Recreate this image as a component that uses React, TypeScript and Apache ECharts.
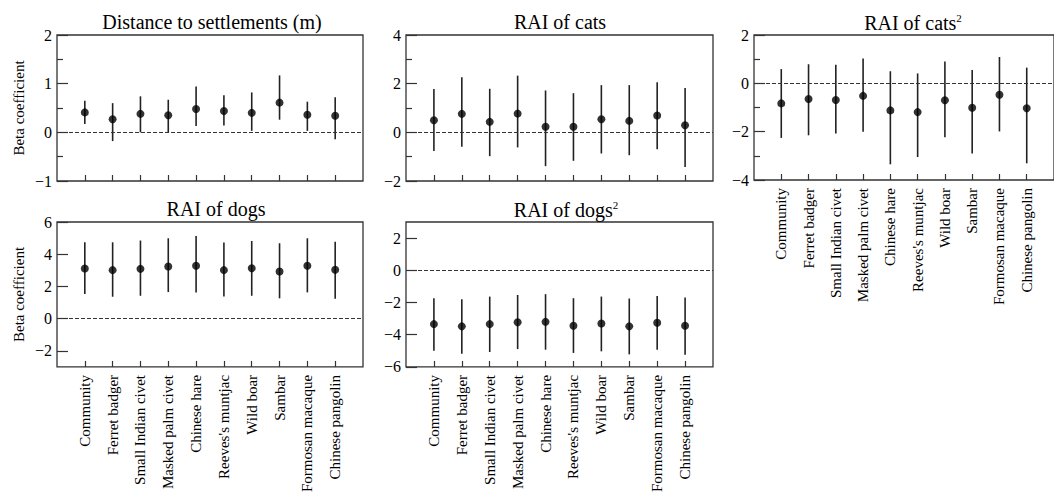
import React, { useEffect, useRef } from "react";
import * as echarts from "echarts";

const categories = [
  "Community",
  "Ferret badger",
  "Small Indian civet",
  "Masked palm civet",
  "Chinese hare",
  "Reeves's muntjac",
  "Wild boar",
  "Sambar",
  "Formosan macaque",
  "Chinese pangolin",
];

// Panel 1: Distance to settlements (m)
const distEst = [0.41, 0.27, 0.38, 0.35, 0.48, 0.44, 0.4, 0.61, 0.36, 0.34];
const distLo = [0.17, -0.18, 0.0, -0.01, 0.13, 0.14, 0.03, 0.26, 0.03, -0.14];
const distHi = [0.65, 0.6, 0.74, 0.67, 0.94, 0.76, 0.82, 1.17, 0.63, 0.72];

// Panel 2: RAI of cats
const catsEst = [0.5, 0.76, 0.43, 0.77, 0.23, 0.23, 0.54, 0.47, 0.69, 0.29];
const catsLo = [-0.77, -0.59, -0.98, -0.62, -1.39, -1.17, -0.87, -0.94, -0.7, -1.42];
const catsHi = [1.78, 2.26, 1.79, 2.33, 1.72, 1.61, 1.94, 1.94, 2.06, 1.82];

// Panel 3: RAI of cats^2
const cats2Est = [-0.83, -0.65, -0.69, -0.52, -1.12, -1.19, -0.7, -1.01, -0.47, -1.03];
const cats2Lo = [-2.26, -2.15, -2.08, -2.0, -3.35, -3.05, -2.23, -2.9, -1.99, -3.31];
const cats2Hi = [0.59, 0.79, 0.77, 1.03, 0.5, 0.41, 0.9, 0.55, 1.09, 0.65];

// Panel 4: RAI of dogs
const dogsEst = [3.11, 3.01, 3.09, 3.24, 3.28, 3.01, 3.13, 2.93, 3.28, 3.03];
const dogsLo = [1.53, 1.36, 1.42, 1.65, 1.63, 1.38, 1.42, 1.26, 1.63, 1.24];
const dogsHi = [4.74, 4.74, 4.85, 4.99, 5.13, 4.72, 4.82, 4.68, 4.99, 4.78];

// Panel 5: RAI of dogs^2
const dogs2Est = [-3.34, -3.48, -3.34, -3.22, -3.2, -3.44, -3.3, -3.48, -3.26, -3.44];
const dogs2Lo = [-4.99, -5.18, -5.07, -4.89, -4.93, -5.13, -5.03, -5.22, -4.93, -5.24];
const dogs2Hi = [-1.73, -1.79, -1.63, -1.53, -1.48, -1.73, -1.63, -1.75, -1.59, -1.69];

const yLabels4 = [-2, 0, 2, 4, 6];
const yLabels5 = [-6, -4, -2, 0, 2];
const xPositions = [1, 2, 3, 4, 5, 6, 7, 8, 9, 10];

const FONT = "'Liberation Serif', 'Times New Roman', serif";

export default function App() {
  const ref = useRef<HTMLDivElement>(null);

  useEffect(() => {
    if (!ref.current) return;
    const chart = echarts.init(ref.current, undefined, { renderer: "svg" });

    const panels = [
      { est: distEst, lo: distLo, hi: distHi, left: 57, top: 35, width: 306, height: 146, min: -1, max: 2, interval: 1, minor: true, custom: null as number[] | null, xLabels: false, yName: true },
      { est: catsEst, lo: catsLo, hi: catsHi, left: 406, top: 35, width: 307, height: 146, min: -2, max: 4, interval: 2, minor: true, custom: null, xLabels: false, yName: false },
      { est: cats2Est, lo: cats2Lo, hi: cats2Hi, left: 754, top: 35, width: 306, height: 145, min: -4, max: 2, interval: 2, minor: true, custom: null, xLabels: true, yName: false },
      { est: dogsEst, lo: dogsLo, hi: dogsHi, left: 57, top: 222, width: 306, height: 145, min: -3, max: 6, interval: 1, minor: false, custom: yLabels4, xLabels: true, yName: true },
      { est: dogs2Est, lo: dogs2Lo, hi: dogs2Hi, left: 406, top: 222, width: 307, height: 145, min: -6, max: 3, interval: 1, minor: false, custom: yLabels5, xLabels: true, yName: false },
    ];

    const grids = panels.map((p) => ({
      left: p.left,
      top: p.top,
      width: p.width,
      height: p.height,
      show: true,
      borderColor: "#333",
      borderWidth: 1.3,
      backgroundColor: "transparent",
    }));

    const xAxes = panels.map((p, i) => ({
      type: "value",
      gridIndex: i,
      position: "bottom",
      min: 0,
      max: 11,
      interval: 1,
      axisLine: { show: false, onZero: false },
      splitLine: { show: false },
      axisTick: { show: true, inside: true, length: 6, lineStyle: { color: "#333", width: 1.2 }, customValues: xPositions },
      axisLabel: {
        show: p.xLabels,
        customValues: xPositions,
        rotate: 90,
        margin: 8,
        color: "#000",
        fontFamily: FONT,
        fontSize: 15,
        formatter: (v: number) => categories[Math.round(v) - 1] ?? "",
      },
    }));

    const yAxes = panels.map((p, i) => {
      const ax: any = {
        type: "value",
        gridIndex: i,
        position: "left",
        min: p.min,
        max: p.max,
        axisLine: { show: false, onZero: false },
        splitLine: { show: false },
        axisTick: { show: true, inside: true, length: 11, lineStyle: { color: "#333", width: 1.2 } },
        axisLabel: {
          color: "#000",
          fontFamily: FONT,
          fontSize: 16,
          margin: 5,
          formatter: (v: number) => (v < 0 ? "\u2212" + Math.abs(v) : String(v)),
        },
      };
      if (p.custom) {
        ax.axisTick.customValues = p.custom;
        ax.axisLabel.customValues = p.custom;
      } else {
        ax.interval = p.interval;
        ax.minorTick = { show: p.minor, splitNumber: 2, length: 6, lineStyle: { color: "#333", width: 1.2 } };
      }
      if (p.yName) {
        ax.name = "Beta coefficient";
        ax.nameLocation = "middle";
        ax.nameGap = 31;
        ax.nameTextStyle = { color: "#000", fontFamily: FONT, fontSize: 15 };
      }
      return ax;
    });

    const series: any[] = [];
    panels.forEach((p, i) => {
      series.push({
        type: "custom",
        xAxisIndex: i,
        yAxisIndex: i,
        silent: true,
        data: xPositions.map((x, k) => [x, p.lo[k], p.hi[k]]),
        encode: { x: 0, y: [1, 2] },
        renderItem: (params: any, api: any) => {
          const x = api.value(0);
          const a = api.coord([x, api.value(1)]);
          const b = api.coord([x, api.value(2)]);
          return {
            type: "line",
            shape: { x1: a[0], y1: a[1], x2: b[0], y2: b[1] },
            style: { stroke: "#222", lineWidth: 1.6 },
          };
        },
        z: 3,
      });
      series.push({
        type: "scatter",
        xAxisIndex: i,
        yAxisIndex: i,
        silent: true,
        symbol: "circle",
        symbolSize: 8,
        itemStyle: { color: "#000" },
        data: xPositions.map((x, k) => [x, p.est[k]]),
        z: 4,
        markLine: {
          silent: true,
          symbol: ["none", "none"],
          label: { show: false },
          lineStyle: { color: "#333", width: 1, type: [4, 2] },
          data: [{ yAxis: 0 }],
        },
      });
    });

    const titleBase = {
      textAlign: "center",
      padding: 0,
      textStyle: { color: "#000", fontFamily: FONT, fontSize: 20, fontWeight: "normal",
        rich: {
          m: { color: "#000", fontFamily: FONT, fontSize: 20, lineHeight: 22 },
          s: { color: "#000", fontFamily: FONT, fontSize: 11, lineHeight: 22, verticalAlign: "top", padding: [0, 0, 0, 0] },
        },
      },
    };

    const titles = [
      { text: "Distance to settlements (m)", left: 212, top: 12 },
      { text: "RAI of cats", left: 560, top: 12 },
      { text: "{m|RAI of cats}{s|2}", left: 913, top: 12 },
      { text: "RAI of dogs", left: 216, top: 199 },
      { text: "{m|RAI of dogs}{s|2}", left: 566, top: 199 },
    ].map((t) => ({ ...titleBase, ...t }));

    chart.setOption({
      animation: false,
      title: titles,
      grid: grids,
      xAxis: xAxes,
      yAxis: yAxes,
      series,
    });

    return () => chart.dispose();
  }, []);

  return (
    <div
      ref={ref}
      style={{ position: "absolute", left: 0, top: 0, width: 1054, height: 495, background: "#fff" }}
    />
  );
}
